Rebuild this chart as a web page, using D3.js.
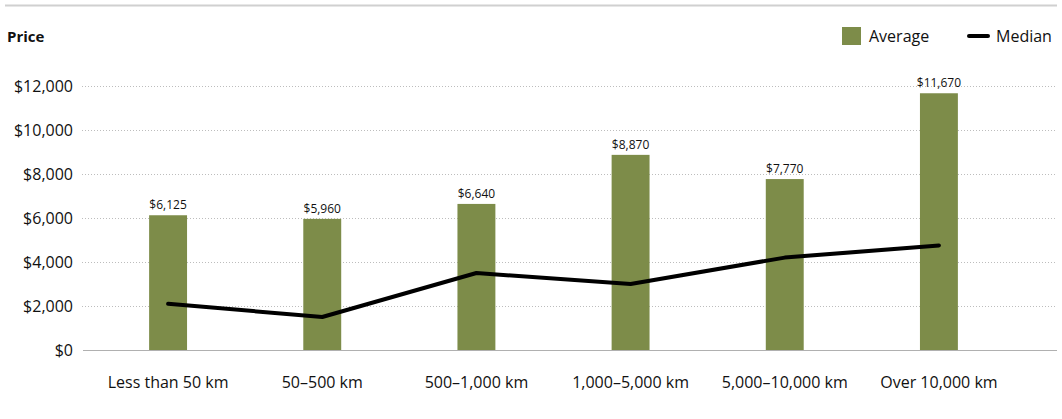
<!DOCTYPE html>
<html><head><meta charset="utf-8">
<script src="https://cdn.jsdelivr.net/npm/d3@7"></script>
<style>
body{margin:0;background:#fff;}
text{font-family:"Open Sans","DejaVu Sans",sans-serif;fill:#111;}
</style></head>
<body><svg id="c" width="1062" height="419"></svg>
<script>
const categories = ["Less than 50 km","50–500 km","500–1,000 km","1,000–5,000 km","5,000–10,000 km","Over 10,000 km"];
const averageValues = [6125, 5960, 6640, 8870, 7770, 11670];
const medianValues = [2100, 1500, 3500, 3000, 4200, 4750];
const yTicks = [0, 2000, 4000, 6000, 8000, 10000, 12000];

const svg = d3.select("#c");
const y = d3.scaleLinear().domain([0, 12000]).range([350, 86]);
const x = d3.scaleBand().domain(categories).range([91, 1016]).paddingInner(0.754).paddingOuter(0.377);
const fmt = d => "$" + d3.format(",")(d);

// top rule
svg.append("line").attr("x1",5).attr("x2",1057).attr("y1",5.5).attr("y2",5.5)
  .attr("stroke","#d0d0d0").attr("stroke-width",2);

svg.append("text").attr("x",7).attr("y",42).attr("font-size",15).attr("font-weight","bold").text("Price");

// gridlines
svg.append("g").selectAll("line").data(yTicks.filter(d=>d>0)).join("line")
  .attr("x1",82).attr("x2",1057).attr("y1",d=>y(d)+0.5).attr("y2",d=>y(d)+0.5)
  .attr("stroke","#bdbdbd").attr("stroke-width",1).attr("stroke-dasharray","1,2");

// y axis labels
const yAxis = d3.axisLeft(y).tickValues(yTicks).tickFormat(fmt).tickSize(0).tickPadding(0);
const ya = svg.append("g").attr("transform","translate(73,0)").call(yAxis);
ya.select(".domain").remove();
ya.selectAll("text").attr("font-size",16).attr("font-family","'Open Sans',sans-serif").attr("fill","#111").attr("dy","0.35em");

// bars
svg.append("g").selectAll("rect").data(averageValues).join("rect")
  .attr("x",(d,i)=>x(categories[i])).attr("width",x.bandwidth())
  .attr("y",d=>y(d)).attr("height",d=>y(0)-y(d)).attr("fill","#7d8c49");

// baseline
svg.append("line").attr("x1",83).attr("x2",1057).attr("y1",350.5).attr("y2",350.5)
  .attr("stroke","#b0b0b0").attr("stroke-width",1);

// bar labels
svg.append("g").selectAll("text").data(averageValues).join("text")
  .attr("x",(d,i)=>x(categories[i])+x.bandwidth()/2).attr("y",d=>y(d)-6)
  .attr("text-anchor","middle").attr("font-size",12).text(fmt);

// median line
const line = d3.line().x((d,i)=>x(categories[i])+x.bandwidth()/2).y(d=>y(d));
svg.append("path").datum(medianValues).attr("d",line).attr("fill","none")
  .attr("stroke","#000").attr("stroke-width",4).attr("stroke-linecap","round").attr("stroke-linejoin","round");

// x axis labels
const xAxis = d3.axisBottom(x).tickSize(0).tickPadding(0);
const xa = svg.append("g").attr("transform","translate(0,388)").call(xAxis);
xa.select(".domain").remove();
xa.selectAll("text").attr("font-size",16).attr("font-family","'Open Sans',sans-serif").attr("fill","#111").attr("dy","0");

// legend
svg.append("rect").attr("x",842).attr("y",27).attr("width",19).attr("height",18).attr("fill","#7d8c49");
svg.append("text").attr("x",869).attr("y",42).attr("font-size",16).text("Average");
svg.append("line").attr("x1",969).attr("x2",988).attr("y1",36).attr("y2",36).attr("stroke","#000").attr("stroke-width",4).attr("stroke-linecap","round");
svg.append("text").attr("x",996).attr("y",42).attr("font-size",16).text("Median");
</script></body></html>
